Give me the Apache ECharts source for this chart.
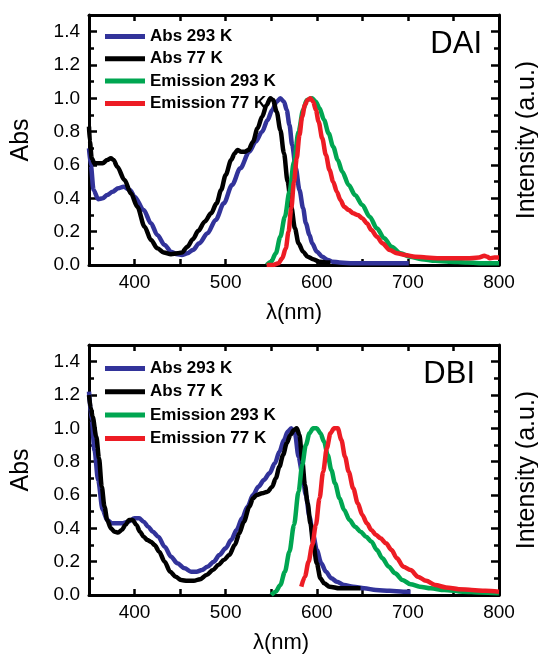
<!DOCTYPE html>
<html><head><meta charset="utf-8">
<script src="https://cdn.jsdelivr.net/npm/echarts@6/dist/echarts.min.js"></script>
<style>html,body{margin:0;padding:0;background:#fff}#c{width:538px;height:655px}</style>
</head><body><div id="c"></div>
<script>
// ---------- data (wavelength in nm, normalized values) ----------
const xTickLabels = [400, 500, 600, 700, 800];
const yTickLabels = [0, 0.2, 0.4, 0.6, 0.8, 1.0, 1.2, 1.4];
const seriesNames = ['Abs 293 K', 'Abs 77 K', 'Emission 293 K', 'Emission 77 K'];
const panelLabels = ['DAI', 'DBI'];

// DAI panel
const daiAbs293Wl = [350,352,355,360,365,370,376,382,388,395,400,410,418,425,433,440,447,452,458,464,471,480,489,498,507,516,526,533,540,546,551,556,560,564,567,570,573,577,581,585,588,592,595,600,606,612,617,625,640,660,680,701];
const daiAbs293   = [0.70,0.60,0.45,0.395,0.40,0.42,0.44,0.46,0.47,0.45,0.41,0.33,0.25,0.18,0.12,0.08,0.065,0.06,0.07,0.09,0.13,0.19,0.27,0.37,0.48,0.58,0.68,0.74,0.80,0.87,0.93,0.98,1.0,0.98,0.93,0.84,0.72,0.58,0.45,0.34,0.25,0.18,0.13,0.08,0.05,0.03,0.02,0.015,0.01,0.01,0.01,0.01];
const daiAbs77Wl  = [350,351,353,356,360,365,370,374,377,381,389,396,403,411,418,425,432,440,447,452,458,464,470,477,484,490,495,500,506,510,513,517,521,525,530,535,540,545,549,552,556,560,564,568,572,576,580,585,590,596,603,610,615];
const daiAbs77    = [0.83,0.74,0.64,0.61,0.61,0.61,0.63,0.64,0.63,0.59,0.51,0.43,0.35,0.23,0.15,0.10,0.075,0.065,0.07,0.075,0.11,0.155,0.205,0.26,0.31,0.37,0.45,0.54,0.63,0.67,0.69,0.68,0.68,0.69,0.74,0.82,0.89,0.96,1.0,0.99,0.92,0.81,0.67,0.50,0.35,0.22,0.13,0.08,0.05,0.035,0.02,0.015,0.015];
const daiEm293Wl  = [545,550,555,560,565,570,575,580,585,589,595,599,603,608,613,618,623,628,635,642,650,658,666,674,682,692,702,715,730,745,765,785,800];
const daiEm293    = [0.0,0.02,0.07,0.17,0.29,0.44,0.62,0.80,0.93,0.99,1.0,0.98,0.94,0.87,0.79,0.71,0.63,0.56,0.48,0.42,0.36,0.29,0.22,0.16,0.11,0.07,0.05,0.035,0.025,0.02,0.015,0.01,0.01];
const daiEm77Wl   = [545,552,558,562,566,569,572,575,578,581,584,587,590,593,596,599,602,606,610,614,618,622,626,630,635,640,645,650,655,660,666,672,680,688,697,708,720,735,750,765,778,784,787,790,795,800];
const daiEm77     = [0.0,0.0,0.01,0.04,0.10,0.20,0.34,0.50,0.64,0.78,0.89,0.96,0.99,1.0,0.98,0.93,0.86,0.76,0.66,0.57,0.50,0.44,0.39,0.35,0.33,0.31,0.30,0.28,0.25,0.21,0.17,0.13,0.09,0.07,0.06,0.05,0.045,0.04,0.04,0.04,0.045,0.055,0.05,0.04,0.045,0.045];

// DBI panel
const dbiAbs293Wl = [350,353,356,360,365,370,375,380,386,393,400,405,410,415,420,426,433,440,447,455,462,468,474,480,487,493,500,506,512,518,524,530,536,542,548,554,559,564,568,572,576,580,584,588,592,596,600,605,610,616,622,630,640,652,665,680,695,703];
const dbiAbs293   = [1.22,1.05,0.87,0.69,0.51,0.45,0.43,0.43,0.43,0.44,0.46,0.46,0.44,0.41,0.38,0.35,0.29,0.23,0.19,0.16,0.14,0.14,0.15,0.17,0.20,0.24,0.28,0.33,0.39,0.46,0.53,0.60,0.65,0.69,0.73,0.79,0.86,0.93,0.98,1.0,0.97,0.83,0.73,0.60,0.47,0.36,0.27,0.19,0.14,0.10,0.08,0.06,0.05,0.04,0.03,0.025,0.02,0.02];
const dbiAbs77Wl  = [350,352,354,358,361,364,367,370,374,378,382,386,390,394,398,402,406,410,414,418,422,427,433,439,445,451,458,465,472,479,486,492,498,504,510,515,520,526,530,534,540,546,551,555,559,563,567,571,575,578,581,584,587,590,593,596,600,604,608,614,625,638,648];
const dbiAbs77    = [1.20,1.12,1.07,0.95,0.82,0.65,0.53,0.45,0.40,0.38,0.375,0.39,0.42,0.45,0.45,0.42,0.38,0.35,0.33,0.32,0.30,0.26,0.20,0.14,0.11,0.09,0.085,0.085,0.095,0.12,0.15,0.18,0.21,0.24,0.30,0.37,0.44,0.53,0.58,0.60,0.61,0.62,0.65,0.70,0.77,0.84,0.91,0.96,0.99,1.0,0.96,0.81,0.66,0.55,0.43,0.31,0.19,0.10,0.07,0.05,0.04,0.04,0.04];
const dbiEm293Wl  = [550,555,560,565,570,575,580,584,588,592,596,600,604,608,612,616,620,625,630,636,642,648,654,660,666,672,679,686,694,703,713,725,740,760,780,800];
const dbiEm293    = [0.0,0.02,0.06,0.14,0.26,0.42,0.62,0.78,0.90,0.97,1.0,1.0,0.97,0.92,0.84,0.75,0.67,0.58,0.51,0.45,0.41,0.38,0.35,0.32,0.27,0.22,0.17,0.13,0.09,0.065,0.05,0.04,0.03,0.02,0.015,0.01];
const dbiEm77Wl   = [583,587,591,595,599,603,607,611,615,619,623,627,631,635,640,645,650,655,660,665,670,676,682,688,695,703,711,720,730,742,756,770,785,800];
const dbiEm77     = [0.05,0.11,0.20,0.30,0.42,0.58,0.74,0.88,0.97,1.0,1.0,0.93,0.83,0.74,0.64,0.55,0.48,0.43,0.39,0.36,0.34,0.31,0.27,0.22,0.17,0.15,0.11,0.085,0.06,0.045,0.035,0.03,0.025,0.02];

const colors = ['#32339a', '#000000', '#00a651', '#ed1c24'];
const FONT = "'Liberation Sans', Arial, sans-serif";

const zip = (xs, ys) => xs.map((x, i) => [x, ys[i]]);
const panels = [
  [zip(daiAbs293Wl, daiAbs293), zip(daiAbs77Wl, daiAbs77), zip(daiEm293Wl, daiEm293), zip(daiEm77Wl, daiEm77)],
  [zip(dbiAbs293Wl, dbiAbs293), zip(dbiAbs77Wl, dbiAbs77), zip(dbiEm293Wl, dbiEm293), zip(dbiEm77Wl, dbiEm77)]
];

const gridTops = [15, 345];
const GH = 250;
const axisLineStyle = { color: '#000', width: 3 };
const tickLineStyle = { color: '#000', width: 2.5 };

const grids = [], xAxes = [], yAxes = [], series = [], legends = [], graphics = [];
gridTops.forEach((top, p) => {
  grids.push({ left: 89, top: top, width: 410, height: GH, containLabel: false, outerBoundsMode: 'none' });
  // bottom x axis
  xAxes.push({
    type: 'value', gridIndex: p, min: 350, max: 800, interval: 50, position: 'bottom',
    axisLine: { show: true, onZero: false, lineStyle: axisLineStyle },
    axisTick: { show: true, inside: true, length: 6, lineStyle: tickLineStyle },
    axisLabel: { show: true, fontSize: 19, color: '#000', fontFamily: FONT, margin: 8,
      formatter: v => xTickLabels.indexOf(Math.round(v)) >= 0 ? String(Math.round(v)) : '' },
    splitLine: { show: false },
    name: 'λ(nm)', nameLocation: 'middle', nameGap: 37,
    nameTextStyle: { fontSize: 22, color: '#000', fontFamily: FONT, padding: p === 1 ? [0, 26, 0, 0] : [0, 0, 0, 0] }
  });
  // top mirror x axis
  xAxes.push({
    type: 'value', gridIndex: p, min: 350, max: 800, interval: 50, position: 'top',
    axisLine: { show: true, onZero: false, lineStyle: axisLineStyle },
    axisTick: { show: true, inside: true, length: 6, lineStyle: tickLineStyle },
    axisLabel: { show: false }, splitLine: { show: false }
  });
  // left y axis
  yAxes.push({
    type: 'value', gridIndex: p, min: 0, max: 1.5, interval: 0.2, position: 'left',
    axisLine: { show: true, onZero: false, lineStyle: axisLineStyle },
    axisTick: { show: true, inside: true, length: 8, lineStyle: tickLineStyle },
    minorTick: { show: true, splitNumber: 2, length: 5, lineStyle: tickLineStyle },
    axisLabel: { show: true, fontSize: 19, color: '#000', fontFamily: FONT, margin: 9,
      formatter: v => yTickLabels.some(t => Math.abs(t - v) < 1e-6) ? v.toFixed(1) : '' },
    splitLine: { show: false }, minorSplitLine: { show: false },
    name: 'Abs', nameLocation: 'middle', nameRotate: 90, nameGap: 55,
    nameTextStyle: { fontSize: 25, color: '#000', fontFamily: FONT }
  });
  // right y axis
  yAxes.push({
    type: 'value', gridIndex: p, min: 0, max: 1.5, interval: 0.2, position: 'right',
    axisLine: { show: true, onZero: false, lineStyle: axisLineStyle },
    axisTick: { show: true, inside: true, length: 8, lineStyle: tickLineStyle },
    minorTick: { show: true, splitNumber: 2, length: 5, lineStyle: tickLineStyle },
    axisLabel: { show: false }, splitLine: { show: false }, minorSplitLine: { show: false },
    name: 'Intensity (a.u.)', nameLocation: 'middle', nameRotate: 90, nameGap: 16,
    nameTextStyle: { fontSize: 25, color: '#000', fontFamily: FONT }
  });
  panels[p].forEach((data, i) => {
    series.push({
      type: 'line', name: seriesNames[i], xAxisIndex: p * 2, yAxisIndex: p * 2,
      data: data, symbol: 'none', showSymbol: false, smooth: 0.3, smoothMonotone: 'x',
      lineStyle: { width: 4.5, color: colors[i] }, itemStyle: { color: colors[i] },
      emphasis: { disabled: true }, z: 2 + i
    });
  });
  legends.push({
    orient: 'vertical', left: 100, top: top + (p === 0 ? 8 : 10),
    itemWidth: 40, itemHeight: 5, itemGap: p === 0 ? 5.3 : 6.3,
    icon: 'rect', selectedMode: false,
    textStyle: { fontSize: 17, fontWeight: 'bold', color: '#000', fontFamily: FONT, lineHeight: 17 },
    data: seriesNames.map((n, i) => ({ name: n, itemStyle: { color: colors[i] } }))
  });
  graphics.push({
    type: 'text', x: p === 0 ? 482 : 475, y: p === 0 ? 44 : 374,
    style: { text: panelLabels[p], font: "31px " + FONT, fill: '#000', textAlign: 'right', textVerticalAlign: 'middle', align: 'right', verticalAlign: 'middle' }
  });
});

const chart = echarts.init(document.getElementById('c'), null, { renderer: 'canvas' });
chart.setOption({
  animation: false,
  backgroundColor: '#fff',
  color: colors,
  grid: grids, xAxis: xAxes, yAxis: yAxes, series: series,
  legend: legends, graphic: graphics
});
</script></body></html>
